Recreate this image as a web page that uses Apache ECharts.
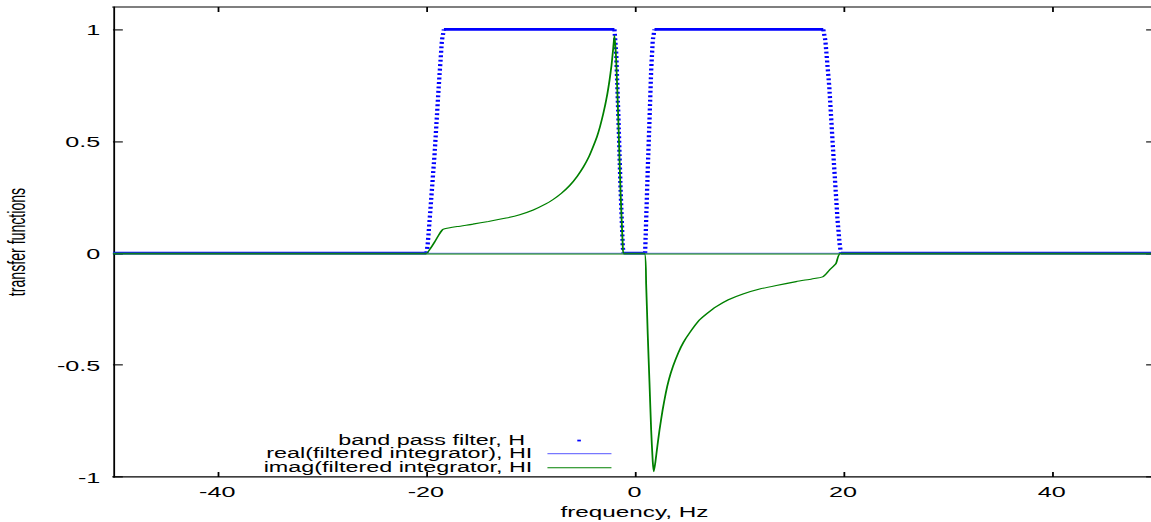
<!DOCTYPE html>
<html>
<head>
<meta charset="utf-8">
<title>transfer functions</title>
<script src="https://cdn.jsdelivr.net/npm/echarts@6/dist/echarts.min.js"></script>
<style>
  html, body { margin: 0; padding: 0; background: #fff; }
  #page { width: 1151px; height: 522px; overflow: hidden; position: relative; }
  /* the reference is a 640x480 gnuplot picture stretched to 1151x522,
     so draw at the original size and stretch it the same way */
  #chart { position: absolute; left: 0; top: 0; width: 640px; height: 480px;
    transform: scale(1.7984, 1.0875); transform-origin: 0 0; }
</style>
</head>
<body>
<div id="page"><div id="chart"></div></div>
<script>
// band pass filter H
var hFreq = [-50, -19.95, -19.83, -19.64, -19.16, -18.77, -18.46, -18.27, -1.92, -1.75, -1.53, -1.34, -1.12, -1.05,
  1.02, 1.12, 1.27, 1.44, 1.6, 1.75, 1.92, 18.1, 18.3, 18.68, 19.06, 19.47, 19.68, 19.8, 50];
var hVal = [0, 0, 0.036, 0.147, 0.446, 0.742, 0.951, 1, 1, 0.893, 0.594, 0.296, 0.028, 0,
  0, 0.147, 0.37, 0.594, 0.817, 0.95, 1, 1, 0.95, 0.742, 0.446, 0.147, 0.036, 0, 0];

// real(filtered integrator)
var reFreq = [-50, 50];
var reVal = [0, 0];

// imag(filtered integrator)
var imFreq = [-50, -19.95, -19.64, -19.16, -18.77, -18.46, -18.27, -17, -15.5, -14, -12.3, -11, -9.7, -8.5, -7.8, -7,
  -6.2, -5.5, -4.9, -4.4, -4, -3.6, -3.3, -3, -2.8, -2.6, -2.4, -2.2, -2.05, -1.92, -1.75, -1.53, -1.34, -1.12, -1.05,
  0.96, 1.12, 1.27, 1.44, 1.6, 1.75, 1.85, 2, 2.2, 2.4, 2.7, 3, 3.3, 3.7, 4.2, 4.7, 5.3, 6.2, 7, 7.8, 9, 10.4, 12, 13.6,
  15.5, 17, 18.04, 18.68, 19.32, 19.8, 50];
var imVal = [0, 0, 0.016, 0.05, 0.081, 0.102, 0.108, 0.119, 0.13, 0.142, 0.157, 0.172, 0.193, 0.22, 0.24, 0.268,
  0.303, 0.343, 0.385, 0.428, 0.472, 0.52, 0.566, 0.622, 0.664, 0.712, 0.77, 0.84, 0.91, 0.973, 0.86, 0.57, 0.28, 0.03, 0,
  0, -0.14, -0.36, -0.58, -0.79, -0.93, -0.976, -0.935, -0.86, -0.79, -0.7, -0.625, -0.565, -0.505, -0.445, -0.398, -0.355, -0.3, -0.268, -0.24, -0.208, -0.182, -0.16, -0.144,
  -0.127, -0.115, -0.106, -0.076, -0.046, 0, 0];

var xTicks = [-40, -20, 0, 20, 40];
var yTicks = [-1, -0.5, 0, 0.5, 1];

var names = ['band pass filter, H', 'real(filtered integrator), HI', 'imag(filtered integrator, HI'];
var font = 'Liberation Sans, Arial, Helvetica, sans-serif';

function pairs(xs, ys) {
  return xs.map(function (x, i) { return [x, ys[i]]; });
}

// H is drawn as dots: flat runs merge into a solid band, the steep edges stay dotted
function segments(xs, ys, flat) {
  var out = [];
  for (var i = 0; i < xs.length - 1; i++) {
    if ((ys[i] === ys[i + 1]) !== flat) continue;
    var last = out[out.length - 1];
    if (!last || last[0] !== xs[i] || last[1] !== ys[i]) {
      if (out.length) out.push([null, null]);
      out.push([xs[i], ys[i]]);
    }
    out.push([xs[i + 1], ys[i + 1]]);
  }
  return out;
}

function xAxis(pos) {
  var bottom = pos === 'bottom';
  return {
    type: 'value', position: pos, min: -50, max: 50,
    axisLine: { onZero: false, lineStyle: { color: '#000', width: 1 } },
    axisTick: { inside: true, length: 4.6, customValues: xTicks, lineStyle: { color: '#000' } },
    axisLabel: { show: bottom, customValues: xTicks, color: '#000', fontSize: 14, fontFamily: font, margin: 6 },
    splitLine: { show: false },
    name: bottom ? 'frequency, Hz' : '',
    nameLocation: 'middle', nameGap: 25,
    nameTextStyle: { color: '#000', fontSize: 13.5, fontFamily: font }
  };
}

function yAxis(pos) {
  var left = pos === 'left';
  return {
    type: 'value', position: pos, min: -1, max: 1.1,
    axisLine: { show: true, onZero: false, lineStyle: { color: '#000', width: 1 } },
    axisTick: { inside: true, length: 5.5, customValues: yTicks, lineStyle: { color: '#000' } },
    axisLabel: { show: left, customValues: yTicks, color: '#000', fontSize: 14, fontFamily: font, margin: 7 },
    splitLine: { show: false },
    name: left ? 'transfer functions' : '',
    nameLocation: 'middle', nameGap: 47,
    nameTextStyle: { color: '#000', fontSize: 13, fontFamily: font }
  };
}

var chart = echarts.init(document.getElementById('chart'), null, { renderer: 'svg' });

chart.setOption({
  animation: false,
  backgroundColor: '#fff',
  grid: { left: 62.8, top: 6.44, width: 580, height: 432.2, containLabel: false, outerBoundsMode: 'none' },
  xAxis: [xAxis('bottom'), xAxis('top')],
  yAxis: [yAxis('left'), yAxis('right')],
  legend: [{
    data: [names[0]], orient: 'vertical', align: 'right', right: 317, top: 398.6, padding: 0,
    icon: 'rect', itemWidth: 2, itemHeight: 1.6, selectedMode: false,
    textStyle: { color: '#000', fontSize: 13, fontFamily: font, lineHeight: 12, padding: [0, 24, 0, 0] }
  }, {
    data: [names[1], names[2]], orient: 'vertical', align: 'right', right: 300, top: 410.6, padding: 0,
    icon: 'rect', itemWidth: 35.6, itemHeight: 1.1, itemGap: 0, selectedMode: false,
    textStyle: { color: '#000', fontSize: 13, fontFamily: font, lineHeight: 12, padding: [0, 3.4, 0, 0] }
  }],
  series: [{
    name: names[0], type: 'line', symbol: 'none', color: '#0000ff',
    data: segments(hFreq, hVal, true),
    lineStyle: { color: '#0000ff', width: 2.6 }
  }, {
    name: names[0], type: 'line', symbol: 'none', color: '#0000ff',
    data: segments(hFreq, hVal, false),
    lineStyle: { color: '#0000ff', width: 2.4, type: [1.8, 2.3] }
  }, {
    name: names[1], type: 'line', symbol: 'none', color: '#7777ff',
    data: pairs(reFreq, reVal),
    lineStyle: { color: '#7777ff', width: 1 }
  }, {
    name: names[2], type: 'line', symbol: 'none', color: '#008000',
    smooth: 0.2,
    data: pairs(imFreq, imVal),
    lineStyle: { color: '#008000', width: 1 },
    // gnuplot's zero axis, drawn in the same green
    markLine: {
      silent: true, symbol: 'none', label: { show: false },
      lineStyle: { color: '#008000', width: 1, type: 'solid' },
      data: [{ yAxis: 0 }]
    }
  }]
});
</script>
</body>
</html>
